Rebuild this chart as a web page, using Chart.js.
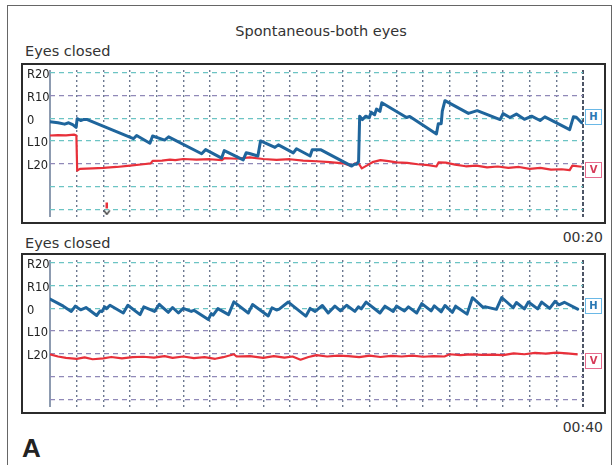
<!DOCTYPE html>
<html><head><meta charset="utf-8">
<script src="https://cdn.jsdelivr.net/npm/chart.js@4.4.1/dist/chart.umd.min.js"></script>
<style>
body{margin:0;background:#fff;width:614px;height:465px;overflow:hidden;font-family:'DejaVu Sans',sans-serif;color:#333;position:relative}
#frame{position:absolute;left:7px;top:5px;width:603px;height:470px;border:1.5px solid #666;border-bottom:none}
.t{position:absolute;white-space:nowrap;line-height:1}
.cv{position:absolute;left:21px}
.box{position:absolute;left:21px;width:581px;height:157px;border:2px solid #2b2b2b;pointer-events:none}
.tag{position:absolute;left:585px;width:15px;height:14px;border:1.5px solid;font:bold 10px 'DejaVu Sans',sans-serif;text-align:center;line-height:14px;background:#fff}
</style></head>
<body>
<div id="frame"></div>
<div class="t" style="left:321px;top:24px;transform:translateX(-50%);font-size:14.5px;color:#333">Spontaneous-both eyes</div>
<div class="t" style="left:25px;top:44px;font-size:14.5px;color:#333">Eyes closed</div>
<div class="t" style="left:25px;top:236px;font-size:14.5px;color:#333">Eyes closed</div>
<div class="t" style="right:11px;top:230px;font-size:14px;color:#333">00:20</div>
<div class="t" style="right:11px;top:420px;font-size:14px;color:#333">00:40</div>
<div class="t" style="left:22px;top:433px;font:bold 26px 'Liberation Sans',Arial,sans-serif;color:#222">A</div>

<canvas id="c1" class="cv" width="585" height="161" style="top:63px"></canvas>
<canvas id="c2" class="cv" width="585" height="161" style="top:253px"></canvas>
<div class="box" style="top:63px"></div>
<div class="box" style="top:253px"></div>

<div class="tag" style="top:109px;border-color:#6ab8e6;color:#2a78b4">H</div>
<div class="tag" style="top:162px;border-color:#e66b8e;color:#d63a58">V</div>
<div class="tag" style="top:298px;border-color:#6ab8e6;color:#2a78b4">H</div>
<div class="tag" style="top:353px;border-color:#e66b8e;color:#d63a58">V</div>

<script>
// ---- data (seconds, degrees: R positive / L negative) ----
const timeTicks = [0,1,2,3,4,5,6,7,8,9,10,11,12,13,14,15,16,17,18,19,20];
const posTicks = [20,10,0,-10,-20,-30,-40];
const posLabels = ['R20','R10','0','L10','L20','',''];

const topH = [[0,-1.6],[0.3,-2.0],[0.55,-2.6],[0.7,-2.0],[0.85,-2.8],[0.98,-4.0],[1.02,-0.2],[1.15,-1.0],[1.25,-0.6],[1.4,-0.6],
 [3.13,-9.0],[3.25,-7.6],[3.75,-11.0],[3.85,-7.8],[4.3,-9.6],[4.45,-8.2],[5.69,-15.6],[5.84,-13.8],[6.44,-17.5],[6.54,-14.2],
 [7.25,-18.3],[7.36,-15.2],[7.45,-15.4],[7.8,-16.6],[7.9,-10.0],[8.44,-12.8],[8.57,-11.7],[9.13,-15.2],[9.25,-13.4],[9.76,-16.6],
 [9.84,-13.8],[10.15,-13.8],[11.32,-21.0],[11.42,-20.2],[11.5,-20.2],[11.58,-19.0],[11.62,0.9],[11.72,-0.6],[11.85,0.9],[11.98,0.2],
 [12.05,2.6],[12.18,1.5],[12.25,4.0],[12.38,3.0],[12.45,6.8],[13.38,0.3],[13.5,0.8],[14.5,-6.9],[14.57,-2.4],[14.68,-2.4],
 [14.72,3.1],[14.82,7.7],[15.7,2.1],[16.03,3.3],[16.89,-0.6],[17.0,2.0],[17.26,0.3],[17.5,1.8],[17.8,-0.5],[18.07,0.9],
 [18.39,-1.0],[18.57,0.6],[19.5,-5.0],[19.64,0.6],[19.75,0.4],[19.95,-2.0]];

const topV = [[0,-7.6],[0.3,-7.4],[0.6,-7.5],[0.9,-7.2],[0.99,-7.6],[1.02,-23.0],[1.12,-22.2],[1.6,-22.0],[2.0,-21.8],[2.5,-21.4],
 [3.0,-20.8],[3.5,-20.2],[3.78,-19.8],[3.85,-18.7],[4.2,-18.6],[4.5,-18.2],[4.7,-18.4],[5.0,-17.9],[5.5,-18.2],[6.0,-18.0],
 [6.45,-18.4],[6.55,-17.5],[7.0,-17.8],[7.5,-17.2],[8.0,-17.9],[8.5,-18.3],[9.0,-18.0],[9.5,-18.6],[10.0,-18.9],[10.5,-19.3],
 [11.0,-19.8],[11.3,-20.9],[11.45,-19.8],[11.6,-20.2],[11.7,-22.0],[11.9,-20.7],[12.1,-19.3],[12.4,-18.4],[12.7,-18.8],[13.0,-19.4],
 [13.4,-19.6],[13.8,-20.2],[14.2,-20.6],[14.5,-21.2],[14.58,-19.4],[14.85,-19.5],[15.2,-20.4],[15.6,-21.1],[16.0,-20.8],[16.4,-21.6],
 [16.8,-21.2],[17.2,-21.8],[17.6,-21.4],[18.0,-22.2],[18.4,-21.8],[18.8,-22.6],[19.2,-22.4],[19.5,-22.8],[19.6,-20.8],[19.95,-21.3]];

const markerShaft = [[2.13,-37.0],[2.13,-39.6]];
const markerHead = [[2.13,-41.3]];

const botH = [[0,4.0],[0.5,0.9],[0.8,-1.4],[0.95,0.9],[1.15,-0.7],[1.35,0.3],[1.75,-3.2],[1.88,-1.2],[1.95,-1.5],[2.05,0.6],
 [2.12,-0.2],[2.25,1.3],[2.75,-2.1],[2.92,1.3],[3.38,-2.8],[3.52,0.6],[3.92,-1.4],[4.1,1.7],[4.44,-1.8],[4.6,0.3],
 [4.82,-2.1],[5.0,-0.1],[5.3,-1.4],[5.4,-0.9],[5.94,-5.0],[6.05,-2.4],[6.12,-3.0],[6.3,-0.2],[6.7,-2.8],[6.9,2.8],
 [7.44,-2.1],[7.6,1.6],[8.19,-3.4],[8.33,0.2],[8.5,-0.8],[8.6,-0.4],[8.94,2.7],[9.6,-3.5],[9.76,-0.1],[9.95,-1.4],
 [10.22,1.2],[10.44,-2.1],[10.69,0.9],[10.9,-1.2],[11.13,1.3],[11.44,-1.4],[11.57,0.6],[11.68,-0.3],[11.86,2.7],[12.38,-2.1],
 [12.57,0.9],[12.88,-1.4],[13.0,0.9],[13.3,-1.2],[13.45,0.6],[13.76,-2.1],[13.95,2.0],[14.3,-1.2],[14.42,1.0],[14.68,-1.6],
 [14.82,1.2],[15.1,-1.8],[15.22,0.9],[15.65,-2.6],[15.85,4.6],[16.25,0.4],[16.35,0.6],[16.75,-0.5],[16.95,4.7],[17.38,0.2],
 [17.5,2.5],[17.8,-0.3],[17.95,2.7],[18.3,-0.3],[18.45,2.7],[18.75,-0.1],[18.95,3.0],[19.1,1.5],[19.3,2.6],[19.8,-0.4]];

const botV = [[0,-20.2],[0.3,-21.2],[0.6,-21.8],[1.0,-22.2],[1.3,-21.6],[1.6,-22.4],[2.0,-22.0],[2.3,-21.4],[2.7,-22.0],[3.1,-21.5],
 [3.5,-21.3],[3.9,-21.7],[4.3,-21.0],[4.6,-21.8],[5.0,-21.2],[5.4,-21.9],[5.8,-21.5],[6.2,-22.2],[6.5,-21.5],[6.9,-20.2],
 [7.0,-21.2],[7.5,-21.0],[8.0,-21.8],[8.4,-21.0],[8.8,-21.7],[9.1,-21.2],[9.4,-22.6],[9.7,-21.4],[10.0,-20.6],[10.4,-21.2],
 [10.8,-20.8],[11.2,-21.0],[11.6,-21.5],[12.0,-20.8],[12.4,-21.4],[12.8,-20.9],[13.2,-21.2],[13.6,-20.8],[14.0,-21.3],[14.4,-21.0],
 [14.8,-21.2],[15.0,-20.2],[15.4,-20.6],[15.8,-20.3],[16.2,-20.5],[16.6,-20.4],[17.0,-20.6],[17.4,-19.8],[17.8,-20.2],[18.2,-19.6],
 [18.6,-19.9],[19.0,-19.5],[19.4,-19.8],[19.8,-20.3]];

// ---- styling ----
const TEAL = '#6cc4c4', PURPLE = '#9089b8';
const topRowColors = {'20':TEAL,'10':PURPLE,'0':TEAL,'-10':TEAL,'-20':PURPLE,'-30':TEAL,'-40':TEAL};
const botRowColors = {'20':TEAL,'10':TEAL,'0':TEAL,'-10':PURPLE,'-20':PURPLE,'-30':PURPLE,'-40':PURPLE};

const head = document.createElement('canvas');
head.width = 8; head.height = 6;
(function(){const g=head.getContext('2d');g.strokeStyle='#444';g.lineWidth=1.5;g.beginPath();g.moveTo(1,1);g.lineTo(4,5);g.lineTo(7,1);g.stroke();})();

const pts = a => a.map(p => ({x:p[0], y:p[1]}));

function makePanel(id, H, V, rowColors, extra) {
  const datasets = [
    {data: pts(H), borderColor:'#1f659c', borderWidth:3, pointRadius:0, order:0, borderJoinStyle:'round', borderCapStyle:'round'},
    {data: pts(V), borderColor:'#e8303a', borderWidth:2.2, pointRadius:0, order:1, borderJoinStyle:'round'}
  ].concat(extra || []);
  new Chart(document.getElementById(id), {
    type:'line',
    data:{datasets},
    options:{
      responsive:false, animation:false, devicePixelRatio:1,
      layout:{padding:{left:6,right:23,top:2,bottom:2}},
      plugins:{legend:{display:false}, tooltip:{enabled:false}},
      scales:{
        x:{type:'linear', min:0, max:20,
           afterBuildTicks: s => { s.ticks = timeTicks.map(v => ({value:v})); },
           afterFit: s => { s.height = 0; },
           ticks:{display:false},
           grid:{drawTicks:false,
                 color: c => c.tick && c.tick.value === 20 ? '#4d5566' : (c.tick && c.tick.value === 0 ? '#8d9bb0' : '#6c7890'),
                 lineWidth: c => c.tick && (c.tick.value === 0 || c.tick.value === 20) ? 2 : 1.4},
           border:{display:false,
                 dash: c => !c.tick ? [] : (c.tick.value === 0 ? [] : (c.tick.value === 20 ? [4,2] : [2,3]))}},
        y:{min:-43.4, max:21.2,
           afterBuildTicks: s => { s.ticks = posTicks.map(v => ({value:v})); },
           afterFit: s => { s.width = 23; },
           ticks:{crossAlign:'far', padding:0, labelOffset:2.5, autoSkip:false, color:'#222',
                  font:{family:'DejaVu Sans', size:11.5},
                  callback: v => posLabels[posTicks.indexOf(v)]},
           grid:{drawTicks:false, lineWidth:1.3,
                 color: c => c.tick ? rowColors[String(c.tick.value)] : TEAL},
           border:{display:false, dash:[5,4]}}
      }
    }
  });
}

makePanel('c1', topH, topV, topRowColors, [
  {data: pts(markerShaft), borderColor:'#e8303a', borderWidth:2.5, pointRadius:0, order:2},
  {data: pts(markerHead), showLine:false, pointStyle:head, pointRadius:4, order:2}
]);
makePanel('c2', botH, botV, botRowColors);
</script>
</body></html>
